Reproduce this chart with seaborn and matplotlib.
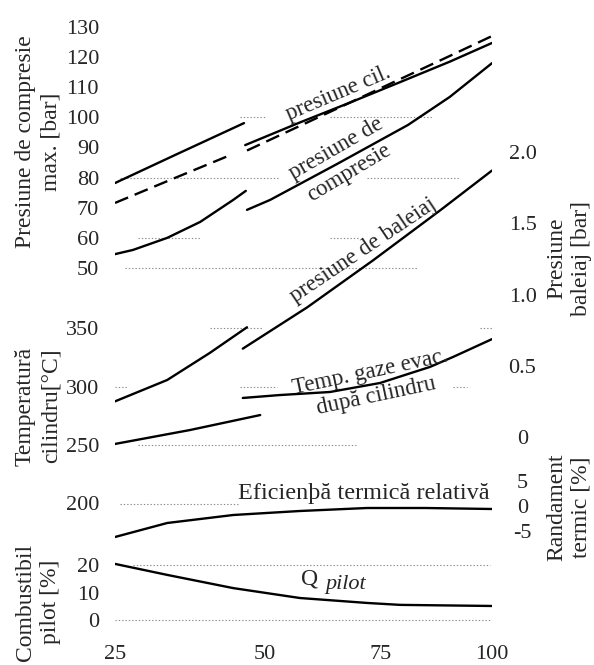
import numpy as np
import matplotlib
matplotlib.use("Agg")
import matplotlib.pyplot as plt
import seaborn as sns

# ---------------- data ----------------
load_ticks = [25, 50, 75, 100]
load_labels = ["25", "50", "75", "100"]

# presiune cil. (solid)  [bar]
cil_x1 = [25, 35, 46.5]
cil_y1 = [78.2, 87.5, 98.1]
cil_x2 = [46.7, 57.5, 68.3, 79.3, 90.5, 100]
cil_y2 = [90.8, 98.3, 104.9, 111.7, 118.5, 124.7]
# dashed pressure curve [bar]
dash_x1 = [25, 35, 44]
dash_y1 = [71.6, 79.9, 87.3]
dash_x2 = [47.0, 68.3, 79.3, 90.5, 100]
dash_y2 = [89.0, 104.9, 112.7, 120.4, 127.0]
# presiune de compresie [bar]
comp_x1 = [25, 28.0, 33.7, 39.2, 44.7, 46.8]
comp_y1 = [54.6, 56.0, 60.0, 65.3, 72.6, 75.6]
comp_x2 = [47.0, 51.1, 65.5, 81.1, 90.5, 100]
comp_y2 = [69.3, 72.6, 84.5, 97.5, 106.8, 118.0]
# presiune de baleiaj [bar]
bal_x1 = [25, 33.7, 40.8, 47.0]
bal_y1 = [0.25, 0.40, 0.59, 0.77]
bal_x2 = [46.3, 59.1, 73.3, 88.3, 100]
bal_y2 = [0.62, 0.91, 1.24, 1.59, 1.87]
# temp. gaze evac. dupa cilindru [C]
tg_x1 = [25, 37.5, 49.2]
tg_y1 = [250.9, 262.8, 275.6]
tg_x2 = [46.3, 53.2, 64.0, 74.8, 86.0, 91.2, 100]
tg_y2 = [290.2, 292.7, 295.3, 303.0, 316.7, 325.2, 340.5]
# eficienta termica relativa [%]
ef_x = [25, 33.7, 44.7, 57.5, 72.0, 85.0, 100]
ef_y = [-6.2, -3.4, -1.8, -1.0, -0.4, -0.4, -0.6]
# Q pilot [%]
qp_x = [25, 33.7, 44.7, 57.5, 72.0, 79.3, 100]
qp_y = [20.4, 16.4, 11.6, 8.0, 6.2, 5.5, 5.1]

comp_ticks = [130, 120, 110, 100, 90, 80, 70, 60, 50]
temp_ticks = [350, 300, 250, 200]
comb_ticks = [20, 10, 0]
bal_ticks = [2.0, 1.5, 1.0, 0.5, 0]
bal_labels = ["2.0", "1.5", "1.0", "0.5", "0"]
rand_ticks = [5, 0, -5]

# ---------------- style ----------------
sns.set_style("white")
plt.rcParams["font.family"] = ["Liberation Serif", "DejaVu Serif"]
FS_TICK = 16
FS_LAB = 17
FS_ANN = 16.5

W, H = 594, 665
L, R, T, B = 115, 492, 20, 630
fig = plt.figure(figsize=(W / 100, H / 100), dpi=100)
rect = [L / W, 1 - B / H, (R - L) / W, (B - T) / H]

XK = np.array([0, 25, 50, 75, 100, 125], dtype=float)
PK = np.array([-150, 0, 150, 266, 377, 488], dtype=float)


def fwd(x):
    return np.interp(x, XK, PK)


def inv(p):
    return np.interp(p, PK, XK)


def lim_from(va, pa, vb, pb):
    k = (vb - va) / (pb - pa)
    return (va + k * (B - pa), va + k * (T - pa))


def make_ax(first=None):
    ax = fig.add_axes(rect, sharex=first) if first is not None else fig.add_axes(rect)
    ax.patch.set_alpha(0)
    for s in ax.spines.values():
        s.set_visible(False)
    ax.tick_params(length=0, labelsize=FS_TICK)
    return ax


ax_c = make_ax()
ax_c.set_xscale("function", functions=(fwd, inv))
ax_c.set_xlim(25, 100)
ax_t = make_ax(ax_c)
ax_q = make_ax(ax_c)
ax_b = make_ax(ax_c)
ax_r = make_ax(ax_c)

ax_c.set_ylim(*lim_from(130, 27, 50, 268))
ax_t.set_ylim(*lim_from(350, 328, 250, 445))
ax_q.set_ylim(*lim_from(20, 565, 0, 620))
ax_b.set_ylim(*lim_from(2.0, 152, 0, 437))
ax_r.set_ylim(*lim_from(5, 481, -5, 531))

for a in (ax_t, ax_q, ax_b, ax_r):
    a.tick_params(axis="x", labelbottom=False)
ax_c.set_xticks(load_ticks, load_labels)
ax_c.tick_params(axis="x", pad=11)

ax_c.set_yticks(comp_ticks, [str(v) for v in comp_ticks])
ax_t.set_yticks(temp_ticks, [str(v) for v in temp_ticks])
ax_q.set_yticks(comb_ticks, [str(v) for v in comb_ticks])
for a in (ax_c, ax_t, ax_q):
    a.tick_params(axis="y", pad=11.5)

ax_b.yaxis.tick_right()
ax_r.yaxis.tick_right()
ax_b.set_yticks(bal_ticks, bal_labels)
ax_r.set_yticks(rand_ticks, [str(v) for v in rand_ticks])
for a in (ax_b, ax_r):
    a.tick_params(axis="y", pad=22)
    for lbl in a.get_yticklabels():
        lbl.set_horizontalalignment("center")

# ---------------- faint dotted grid segments ----------------
GC = "#8a8a8a"


def seg(ax, v, spans):
    for x0, x1 in spans:
        ax.axhline(v, xmin=(x0 - L) / (R - L), xmax=(x1 - L) / (R - L),
                   color=GC, lw=0.8, ls=(0, (1.2, 1.8)), zorder=1)


seg(ax_c, 50, [(125, 417)])
seg(ax_c, 80, [(120, 280), (367, 460)])
seg(ax_c, 60, [(138, 200), (330, 358)])
seg(ax_c, 100, [(240, 265), (330, 433)])
seg(ax_t, 350, [(210, 262), (480, 492)])
seg(ax_t, 300, [(115, 127), (240, 277), (453, 467)])
seg(ax_t, 250, [(138, 357)])
seg(ax_t, 200, [(120, 240)])
seg(ax_q, 20, [(133, 490)])
seg(ax_q, 0, [(115, 490)])

# ---------------- curves ----------------
LW = 1.7
kw = dict(color="black", lw=LW, estimator=None, sort=False, legend=False)
sns.lineplot(x=cil_x1, y=cil_y1, ax=ax_c, **kw)
sns.lineplot(x=cil_x2, y=cil_y2, ax=ax_c, **kw)
sns.lineplot(x=dash_x1, y=dash_y1, ax=ax_c, linestyle=(0, (6, 3)), **kw)
sns.lineplot(x=dash_x2, y=dash_y2, ax=ax_c, linestyle=(0, (6, 3)), **kw)
sns.lineplot(x=comp_x1, y=comp_y1, ax=ax_c, **kw)
sns.lineplot(x=comp_x2, y=comp_y2, ax=ax_c, **kw)
sns.lineplot(x=bal_x1, y=bal_y1, ax=ax_b, **kw)
sns.lineplot(x=bal_x2, y=bal_y2, ax=ax_b, **kw)
sns.lineplot(x=tg_x1, y=tg_y1, ax=ax_t, **kw)
sns.lineplot(x=tg_x2, y=tg_y2, ax=ax_t, **kw)
sns.lineplot(x=ef_x, y=ef_y, ax=ax_r, **kw)
sns.lineplot(x=qp_x, y=qp_y, ax=ax_q, **kw)

for a in (ax_c, ax_t, ax_q, ax_b, ax_r):
    a.set_xlabel("")
    a.set_ylabel("")
ax_c.set_xlim(25, 100)


# ---------------- texts ----------------
def fxy(x, y):
    return x / W, 1 - y / H


def ftext(x, y, s, rot=0, size=FS_ANN, **k):
    fig.text(*fxy(x, y), s, rotation=rot, rotation_mode="anchor", ha="center",
             va="center", fontsize=size, multialignment="center", **k)


ftext(38, 142, "Presiune de compresie\nmax. [bar]", rot=90, size=FS_LAB, linespacing=1.3)
ftext(38, 406, "Temperatură\ncilindru[°C]", rot=90, size=FS_LAB, linespacing=1.3)
ftext(38, 602, "Combustibil\npilot [%]", rot=90, size=FS_LAB, linespacing=1.3)
ftext(569, 258, "Presiune\nbaleiaj [bar]", rot=90, size=FS_LAB, linespacing=1.2)
ftext(569, 507, "Randament\ntermic [%]", rot=90, size=FS_LAB, linespacing=1.2)

ftext(338, 94, "presiune cil.", rot=23)
ftext(336, 149, "presiune de", rot=30)
ftext(349, 173, "compresie", rot=31)
ftext(363, 250, "presiune de baleiaj", rot=34)
ftext(370, 372, "Temp. gaze evac.", rot=12)
ftext(376, 396, "după cilindru", rot=12)
ftext(364, 493, "Eficienþă termică relativă", size=17.5)
ftext(310, 579, "Q", size=17)
ftext(346, 584, "pilot", size=16, style="italic")

fig.savefig("out.png", dpi=100)
